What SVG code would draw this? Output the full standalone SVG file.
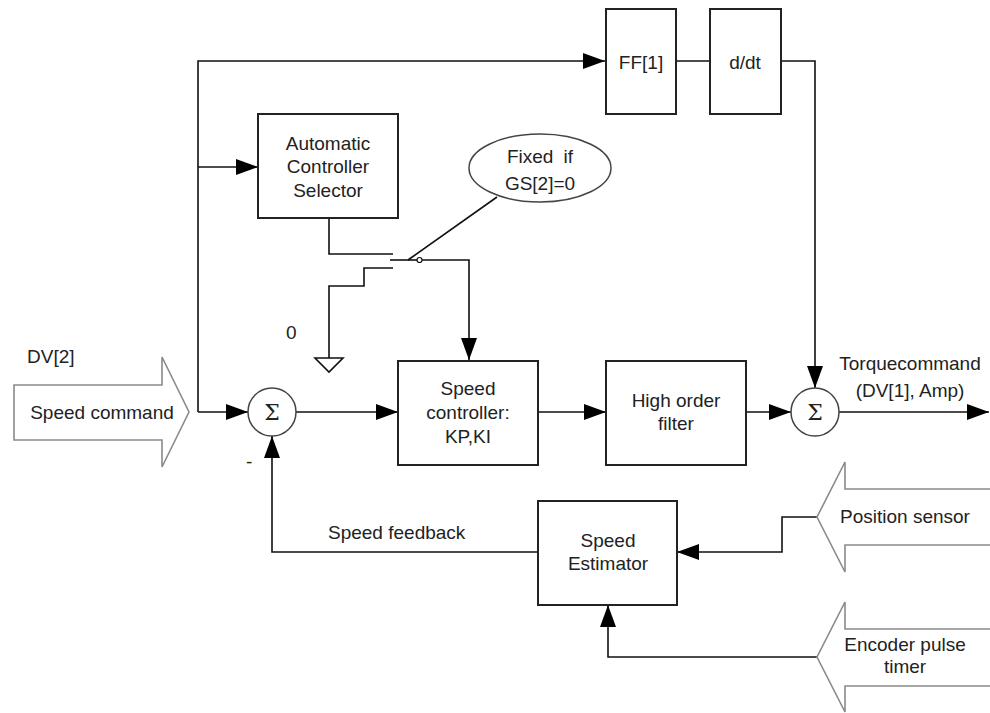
<svg xmlns="http://www.w3.org/2000/svg" width="990" height="713" viewBox="0 0 990 713">
<defs>
<marker id="ah" viewBox="0 0 22 16" refX="22" refY="8" markerWidth="22" markerHeight="16" markerUnits="userSpaceOnUse" orient="auto">
<path d="M0,0 L22,8 L0,16 z" fill="#000"/>
</marker>
<style>
.box{fill:#fff;stroke:#222;stroke-width:2}
.ln{fill:none;stroke:#111;stroke-width:1.6}
.arr{fill:none;stroke:#111;stroke-width:1.6;marker-end:url(#ah)}
.big{fill:#fff;stroke:#8a8a8a;stroke-width:1.6}
.t{font-family:"Liberation Sans",Arial,sans-serif;font-size:19px;fill:#222}
.c{text-anchor:middle}
.sig{font-family:"DejaVu Serif","Liberation Serif",serif;font-size:22px;fill:#222;text-anchor:middle}
</style>
</defs>
<rect width="990" height="713" fill="#fff"/>

<g id="connectors">
<path class="arr" d="M198,412 V61 H605"/>
<path class="arr" d="M198,412 H248"/>
<path class="arr" d="M198,167 H258"/>
<path class="ln" d="M676,61 H710"/>
<path class="arr" d="M781,61 H815 V388"/>
<path class="arr" d="M296,412 H398"/>
<path class="arr" d="M538,412 H606"/>
<path class="arr" d="M746,412 H791"/>
<path class="arr" d="M839,412 H989"/>
<path class="arr" d="M538,552 H272 V436"/>
<path class="arr" d="M817,517 H782 V552 H677"/>
<path class="arr" d="M817,657 H608 V605"/>
<path class="ln" d="M329,218 V254 H393"/>
<path class="ln" d="M390,260 H417"/>
<circle cx="419.5" cy="260" r="2.5" fill="#fff" stroke="#111" stroke-width="1.2"/>
<path class="arr" d="M422,260 H469 V360"/>
<path class="ln" d="M393,268 H364 V286 H329 V358"/>
<path class="ln" d="M315,358 H343 L329,372 Z" fill="#fff" stroke="#555"/>
<path class="ln" d="M497,197 L408,260" stroke="#444"/>
</g>

<g id="speed-command">
<path class="big" d="M14,385 H162 V357 L189,412 L162,467 V440 H14 Z"/>
<text class="t c" x="102" y="419">Speed command</text>
<text class="t" x="27" y="363">DV[2]</text>
</g>

<g id="sum1">
<circle cx="272" cy="412" r="24" fill="#fff" stroke="#444" stroke-width="1.5"/>
<text class="sig" x="272" y="420">Σ</text>
<text class="t" x="246" y="468">-</text>
</g>

<g id="ff">
<rect class="box" x="606" y="9" width="70" height="105"/>
<text class="t c" x="641" y="69">FF[1]</text>
</g>

<g id="ddt">
<rect class="box" x="710" y="9" width="71" height="105"/>
<text class="t c" x="745" y="69">d/dt</text>
</g>

<g id="acs">
<rect class="box" x="258" y="114" width="140" height="104"/>
<text class="t c" x="328" y="150">Automatic</text>
<text class="t c" x="328" y="173">Controller</text>
<text class="t c" x="328" y="197">Selector</text>
</g>

<g id="fixed-note">
<ellipse cx="540" cy="168" rx="71" ry="34" fill="#fff" stroke="#444" stroke-width="1.5"/>
<text class="t c" x="540" y="163" word-spacing="5">Fixed if</text>
<text class="t c" x="540" y="190">GS[2]=0</text>
</g>

<g id="zero">
<text class="t" x="286" y="339">0</text>
</g>

<g id="speed-controller">
<rect class="box" x="398" y="361" width="140" height="104"/>
<text class="t c" x="468" y="395">Speed</text>
<text class="t c" x="468" y="419">controller:</text>
<text class="t c" x="468" y="443">KP,KI</text>
</g>

<g id="hof">
<rect class="box" x="606" y="361" width="140" height="104"/>
<text class="t c" x="676" y="407">High order</text>
<text class="t c" x="676" y="430">filter</text>
</g>

<g id="sum2">
<circle cx="815" cy="412" r="24" fill="#fff" stroke="#444" stroke-width="1.5"/>
<text class="sig" x="815" y="420">Σ</text>
</g>

<g id="torque">
<text class="t c" x="910" y="370">Torquecommand</text>
<text class="t c" x="910" y="397">(DV[1], Amp)</text>
</g>

<g id="speed-estimator">
<rect class="box" x="538" y="501" width="139" height="104"/>
<text class="t c" x="608" y="547">Speed</text>
<text class="t c" x="608" y="570">Estimator</text>
<text class="t" x="328" y="539">Speed feedback</text>
</g>

<g id="position-sensor">
<path class="big" d="M992,489 H845 V462 L817,517 L845,572 V545 H992"/>
<text class="t c" x="905" y="523">Position sensor</text>
</g>

<g id="encoder">
<path class="big" d="M992,629 H845 V602 L817,657 L845,712 V686 H992"/>
<text class="t c" x="905" y="651">Encoder pulse</text>
<text class="t c" x="905" y="673">timer</text>
</g>
</svg>
